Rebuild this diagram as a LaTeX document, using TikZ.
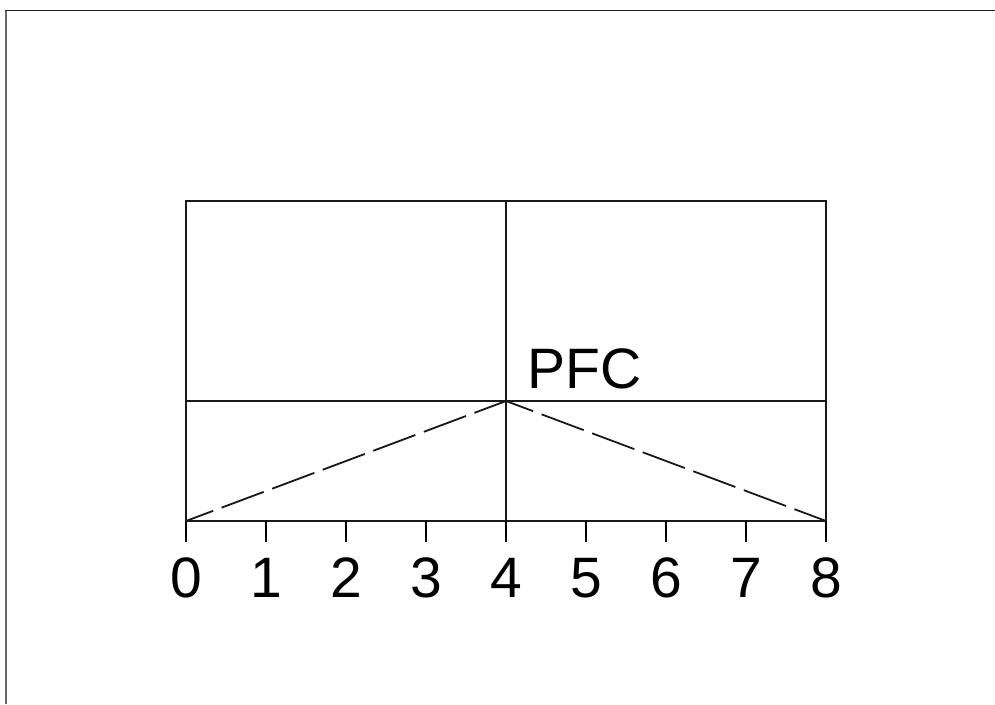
\documentclass[tikz,border=0pt]{standalone}
\usepackage{fontspec}
\setmainfont{Liberation Sans}
\begin{document}
\begin{tikzpicture}[x=1pt,y=-1pt,
  frame/.style={line width=1.8pt},
  box/.style={line width=2.3pt,black!90},
  dashline/.style={line width=1.8pt,black!90,dash pattern=on 45pt off 9pt,dash phase=16pt},
  tick/.style={line width=1.6pt},
  ticklabel/.style={font=\fontsize{57}{57}\selectfont,anchor=center,inner sep=0pt},
  pfc/.style={font=\fontsize{57}{57}\selectfont,anchor=base west,inner sep=0pt}]
\useasboundingbox (0,0) rectangle (995,704);
\draw[frame,gray!80!black] (6,10.5) -- (6,704);
\draw[frame,black!85] (5,10.5) -- (995,10.5);
% main box
\coordinate (TL) at (186,201);
\coordinate (TR) at (826,201);
\coordinate (BL) at (186,521);
\coordinate (BR) at (826,521);
\coordinate (TM) at (506,201);
\coordinate (BM) at (506,521);
\coordinate (ML) at (186,401);
\coordinate (MR) at (826,401);
\coordinate (P) at (506,401);
\draw[dashline] (BL) -- (P);
\draw[dashline] (P) -- (BR);
\draw[box] (TL) rectangle (BR);
\draw[box] (TM) -- (BM);
\draw[box] (ML) -- (MR);
\foreach \i in {0,...,8}{
  \coordinate (t\i) at ({186+80*\i},521);
  \coordinate (tb\i) at ({186+80*\i},542);
  \draw[tick] (t\i) -- (tb\i);
  \node[ticklabel] (l\i) at ({186+80*\i},578) {\i};
}
\node[pfc] (pfc) at (527,388) {PFC};
\end{tikzpicture}
\end{document}
